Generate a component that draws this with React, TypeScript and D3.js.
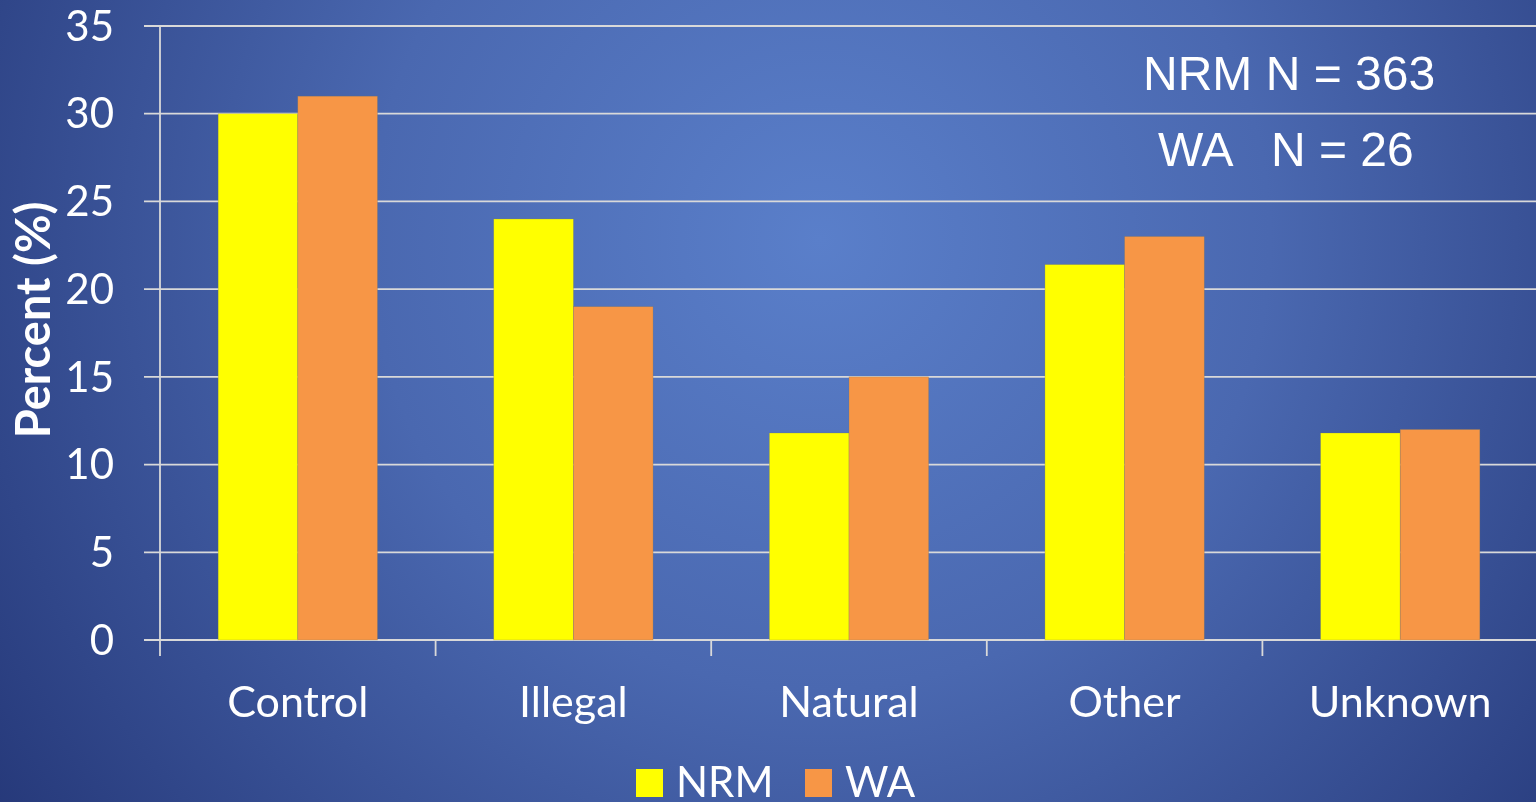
import React from "react";
import * as d3 from "d3";

const categories = ["Control", "Illegal", "Natural", "Other", "Unknown"];
const seriesNames = ["NRM", "WA"];
const nrmValues = [30, 24, 11.8, 21.4, 11.8];
const waValues = [31, 19, 15, 23, 12];
const yTicks = [0, 5, 10, 15, 20, 25, 30, 35];
const noteLines = ["NRM N = 363", "WA   N = 26"];

const W = 1536;
const H = 802;
const colors = ["#ffff00", "#f79646"];

export default function App() {
  const x0 = d3.scaleBand<string>().domain(categories).range([160, 1538]).paddingInner(0).paddingOuter(0);
  const inner = d3.scaleBand<string>().domain(seriesNames).range([0, x0.bandwidth()]).paddingOuter(0.73).paddingInner(0);
  const y = d3.scaleLinear().domain([0, 35]).range([640, 26]);
  const series = [nrmValues, waValues];
  const grid = "#d9d9d9";
  const tickFont = "Lato, 'Open Sans', sans-serif";

  return (
    <svg width={W} height={H} style={{ position: "fixed", left: 0, top: 0 }}>
      <defs>
        <radialGradient id="bg" gradientUnits="userSpaceOnUse" cx={820} cy={240} r={1000}>
          <stop offset="0" stopColor="#5a7fca" />
          <stop offset="0.45" stopColor="#4a68b0" />
          <stop offset="1" stopColor="#26397a" />
        </radialGradient>
      </defs>
      <rect x={0} y={0} width={W} height={H} fill="url(#bg)" />
      {yTicks.map((t) => (
        <g key={t}>
          <line x1={144} x2={W} y1={y(t)} y2={y(t)} stroke={grid} strokeWidth={1.8} />
          <text x={114} y={y(t)} dy="0.35em" textAnchor="end" fill="#fff" fontFamily={tickFont} fontSize={42}>
            {t}
          </text>
        </g>
      ))}
      <line x1={160} x2={160} y1={y(35)} y2={656} stroke={grid} strokeWidth={1.8} />
      {categories.map((c) => (
        <line key={"t" + c} x1={x0(c)! + x0.bandwidth()} x2={x0(c)! + x0.bandwidth()} y1={640} y2={656} stroke={grid} strokeWidth={1.8} />
      ))}
      {categories.map((c, i) => (
        <g key={c} transform={`translate(${x0(c)},0)`}>
          {seriesNames.map((s, j) => (
            <rect
              key={s}
              x={inner(s)}
              width={inner.bandwidth()}
              y={y(series[j][i])}
              height={y(0) - y(series[j][i])}
              fill={colors[j]}
              stroke="rgba(120,120,100,0.45)"
              strokeWidth={0.6}
            />
          ))}
          <text x={x0.bandwidth() / 2} y={717} textAnchor="middle" fill="#fff" fontFamily={tickFont} fontSize={43}>
            {c}
          </text>
        </g>
      ))}
      <text
        transform="translate(50,320) rotate(-90)"
        textAnchor="middle"
        fill="#fff"
        fontFamily={tickFont}
        fontWeight="bold"
        fontSize={47}
      >
        Percent (%)
      </text>
      <text x={1143} y={90} fill="#fff" fontFamily="'Liberation Sans', Arial, sans-serif" fontSize={48} style={{ whiteSpace: "pre" }}>
        {noteLines[0]}
      </text>
      <text x={1158} y={166} fill="#fff" fontFamily="'Liberation Sans', Arial, sans-serif" fontSize={48} style={{ whiteSpace: "pre" }}>
        {noteLines[1]}
      </text>
      {seriesNames.map((s, j) => {
        const lx = [636, 805][j];
        return (
          <g key={"lg" + s}>
            <rect x={lx} y={769} width={27} height={28} fill={colors[j]} />
            <text x={lx + 40} y={797} fill="#fff" fontFamily={tickFont} fontSize={42}>
              {s}
            </text>
          </g>
        );
      })}
    </svg>
  );
}
